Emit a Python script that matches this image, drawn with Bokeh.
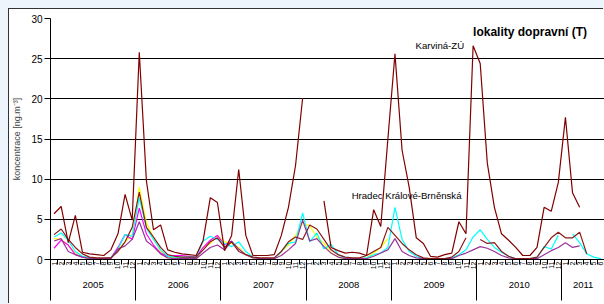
import math
from bokeh.plotting import figure
from bokeh.models import FixedTicker, LinearAxis, Label, Range1d
from bokeh.embed import file_html
from bokeh.resources import INLINE

nan = float("nan")

years = ["2005", "2006", "2007", "2008", "2009", "2010", "2011"]
months_per_year = [12, 12, 12, 12, 12, 12, 6]
month_labels = ["1", "2", "3", "4", "5", "6", "7", "8", "9", "10", "11", "12"]

karvina = [5.7, 6.6, 2.1, 5.5, 0.9, 0.7, 0.6, 0.5, 1.2, 3.2, 8.1, 4.9,
           25.8, 9.8, 3.7, 4.3, 1.2, 0.9, 0.7, 0.6, 0.5, 2.4, 7.7, 7.1,
           1.1, 3.0, 11.2, 3.0, 0.5, 0.5, 0.5, 0.6, 3.0, 6.5, 11.7, 20.1,
           nan, nan, 7.3, 1.5, 1.1, 0.8, 0.9, 0.8, 0.5, 6.2, 4.1, 15.0,
           25.6, 13.6, 9.0, 2.7, 2.0, 0.4, 0.3, 0.6, 0.8, 4.7, 3.2, 26.6,
           24.4, 12.0, 6.5, 3.2, 2.4, 1.5, 0.5, 0.5, 1.5, 6.5, 6.0, 9.6,
           17.7, 8.3, 6.5, nan, nan, nan]

druha = [3.1, 3.8, 2.5, 1.5, 0.7, 0.3, 0.2, 0.2, 0.2, 1.0, 2.2, 4.0,
         8.4, 4.0, 2.8, 1.5, 0.6, 0.4, 0.3, 0.3, 0.3, 1.2, 2.2, 2.7,
         1.5, 2.2, 1.0, 0.6, 0.3, 0.2, 0.2, 0.2, 1.0, 2.2, 2.8, 2.5,
         4.3, 3.8, 2.5, 1.2, 0.6, 0.3, 0.2, 0.2, 0.5, 1.0, 1.5, 4.0,
         3.0, 2.0, 1.2, 0.6, 0.2, 0.1, 0.1, 0.1, 0.3, 1.0, 2.7, nan,
         2.5, 2.0, 2.1, 1.0, 0.4, 0.1, 0.1, 0.1, 0.3, 1.5, 2.7, 3.4,
         2.7, 2.7, 3.4, 0.7, nan, nan]

hradec = [2.8, 3.3, 2.4, 1.0, 0.4, 0.2, 0.1, 0.1, 0.2, 1.3, 3.1, 2.9,
          7.7, 3.9, 2.5, 1.2, 0.4, 0.3, 0.3, 0.3, 0.3, 2.3, 2.9, 2.5,
          2.0, 1.6, 2.2, 1.0, 0.3, 0.1, 0.1, 0.1, 1.0, 2.0, 2.2, 5.8,
          2.2, 3.3, 1.3, 1.9, 0.6, 0.2, 0.1, 0.1, 0.2, 0.6, 0.8, 1.5,
          6.5, 2.5, 1.0, 0.4, 0.1, 0.1, 0.1, 0.1, 0.2, 0.6, 1.2, 2.8,
          3.7, 2.5, 1.5, 0.9, 0.4, 0.1, 0.1, 0.1, 0.2, 1.6, 1.3, 3.0,
          nan, 3.2, 2.1, 0.7, 0.3, 0.1]

fialova = [2.3, 2.6, 1.0, 0.6, 0.3, 0.1, 0.1, 0.1, 0.1, 1.3, 1.7, 2.5,
           4.7, 2.3, 1.6, 0.7, 0.2, 0.1, 0.1, 0.1, 0.1, 0.8, 1.5, 1.8,
           1.2, 2.3, 1.3, 0.6, 0.2, 0.1, 0.1, 0.1, 0.5, 1.2, 2.0, 4.9,
           2.3, 2.6, 1.6, 0.8, 0.3, 0.1, 0.1, 0.1, 0.1, 0.4, 0.8, 1.2,
           2.6, 1.0, 0.5, 0.2, 0.1, 0.1, 0.1, 0.1, 0.1, 0.5, 0.8, 1.2,
           1.6, 1.4, 1.0, 0.5, 0.2, 0.1, 0.1, 0.1, 0.1, 0.6, 1.1, 1.5,
           2.1, 1.5, 1.7, nan, nan, nan]

purpurova = [1.4, 2.4, 1.8, 0.6, 0.3, 0.2, 0.1, 0.1, 0.2, 1.5, 3.1, 2.5,
             6.4, 3.2, 1.8, 0.8, 0.4, 0.5, 0.5, 0.4, 0.3, 1.5, 2.4, 3.0,
             1.8, 2.3, nan, nan, nan, nan, nan, nan, nan, nan, nan, nan,
             nan, nan, nan, nan, nan, nan, nan, nan, nan, nan, nan, nan,
             nan, nan, nan, nan, nan, nan, nan, nan, nan, nan, nan, nan,
             nan, nan, nan, nan, nan, nan, nan, nan, nan, nan, nan, nan,
             nan, nan, nan, nan, nan, nan]

zluta = [2.6, 2.5, 1.8, 0.8, 0.3, 0.1, 0.1, 0.1, 0.2, 1.2, 2.2, 3.0,
         9.0, 4.6, 2.7, 1.0, 0.3, 0.2, 0.2, 0.2, 0.2, 1.5, 2.0, 3.0,
         2.2, 2.0, 1.5, 0.6, 0.2, 0.1, 0.1, 0.1, 1.0, 1.8, 3.0, 4.5,
         4.2, 2.8, 2.0, 0.8, 0.3, 0.1, 0.1, 0.1, 0.2, 0.8, 1.5, 2.6,
         nan, nan, nan, nan, nan, nan, nan, nan, nan, nan, nan, nan,
         nan, nan, nan, nan, nan, nan, nan, nan, nan, nan, nan, nan,
         nan, nan, nan, nan, nan, nan]

series = [
    (zluta, "#FFFF00"),
    (purpurova, "#FF00FF"),
    (hradec, "#00FFFF"),
    (fialova, "#993399"),
    (druha, "#8B1A1A"),
    (karvina, "#800000"),
]

n_months = sum(months_per_year)
x_mid = [i + 0.5 for i in range(n_months)]

p = figure(width=595, height=295, output_backend="svg", toolbar_location=None,
           x_range=Range1d(0, n_months), y_range=Range1d(0, 30),
           min_border_left=38, min_border_right=0, min_border_top=9,
           min_border_bottom=45, background_fill_color="white",
           border_fill_color="white", outline_line_color=None)
p.styles = {"margin-left": "9px", "margin-top": "9px",
            "box-shadow": "-1px -1px 0 0 #333333, 0 0 0 9px #EEF4FC"}

for vals, col in series:
    p.line(x_mid, vals, line_color=col, line_width=1.2)

# y axis
p.yaxis.ticker = FixedTicker(ticks=[0, 5, 10, 15, 20, 25, 30])
p.yaxis.axis_label = "koncentrace [ng.m\u207b\u00b3]"
p.yaxis.axis_label_text_font = "Liberation Sans"
p.yaxis.axis_label_text_font_style = "normal"
p.yaxis.axis_label_text_font_size = "9px"
p.yaxis.axis_label_standoff = 6
p.yaxis.major_label_text_font = "Liberation Sans"
p.yaxis.major_label_text_font_size = "10px"
p.yaxis.major_label_text_color = "black"
p.yaxis.major_label_standoff = 2
p.yaxis.major_tick_out = 6
p.yaxis.major_tick_in = 0
p.yaxis.minor_tick_out = 0
p.yaxis.minor_tick_in = 0
p.yaxis.axis_line_color = "black"
p.yaxis.major_tick_line_color = "black"
p.ygrid.grid_line_color = "black"
p.ygrid.grid_line_width = 1
p.xgrid.grid_line_color = None

# x axis 1: month labels at month centres, tick marks at month boundaries
starts = [0]
for m in months_per_year:
    starts.append(starts[-1] + m)
mlab = []
for m in months_per_year:
    mlab += month_labels[:m]
ax1 = p.xaxis[0]
ax1.ticker = FixedTicker(ticks=x_mid, minor_ticks=list(range(n_months + 1)))
ax1.major_label_overrides = {x: t for x, t in zip(x_mid, mlab)}
ax1.major_label_orientation = math.pi / 2
ax1.major_label_text_font = "Liberation Sans"
ax1.major_label_text_font_size = "7px"
ax1.major_label_text_color = "black"
ax1.major_label_standoff = -3
ax1.major_tick_out = 0
ax1.major_tick_in = 0
ax1.minor_tick_out = 5
ax1.minor_tick_in = 0
ax1.axis_line_color = "black"
ax1.minor_tick_line_color = "black"

# x axis 2: year labels and year separators
ycen = [(starts[k] + starts[k + 1]) / 2 for k in range(len(years))]
ax2 = LinearAxis(ticker=FixedTicker(ticks=ycen, minor_ticks=starts[:-1]))
ax2.major_label_overrides = {x: t for x, t in zip(ycen, years)}
ax2.major_label_text_font = "Liberation Sans"
ax2.major_label_text_font_size = "9.5px"
ax2.major_label_text_color = "black"
ax2.major_label_standoff = -19
ax2.major_tick_out = 0
ax2.major_tick_in = 0
ax2.minor_tick_in = 10
ax2.minor_tick_out = 28
ax2.minor_tick_line_color = "black"
ax2.axis_line_color = None
p.add_layout(ax2, "below")

p.add_layout(Label(x=59.5, y=28.3, text="lokality dopravní (T)", text_font="Liberation Sans",
                   text_font_size="12px", text_font_style="bold", text_baseline="middle",
                   text_color="black"))
p.add_layout(Label(x=51.4, y=26.65, text="Karviná-ZÚ", text_font="Liberation Sans",
                   text_font_size="9.6px", text_baseline="middle", text_color="black"))
p.add_layout(Label(x=42.4, y=7.97, text="Hradec Králové-Brněnská", text_font="Liberation Sans",
                   text_font_size="9.6px", text_baseline="middle", text_color="black"))

open("out.html", "w").write(file_html(p, INLINE))
